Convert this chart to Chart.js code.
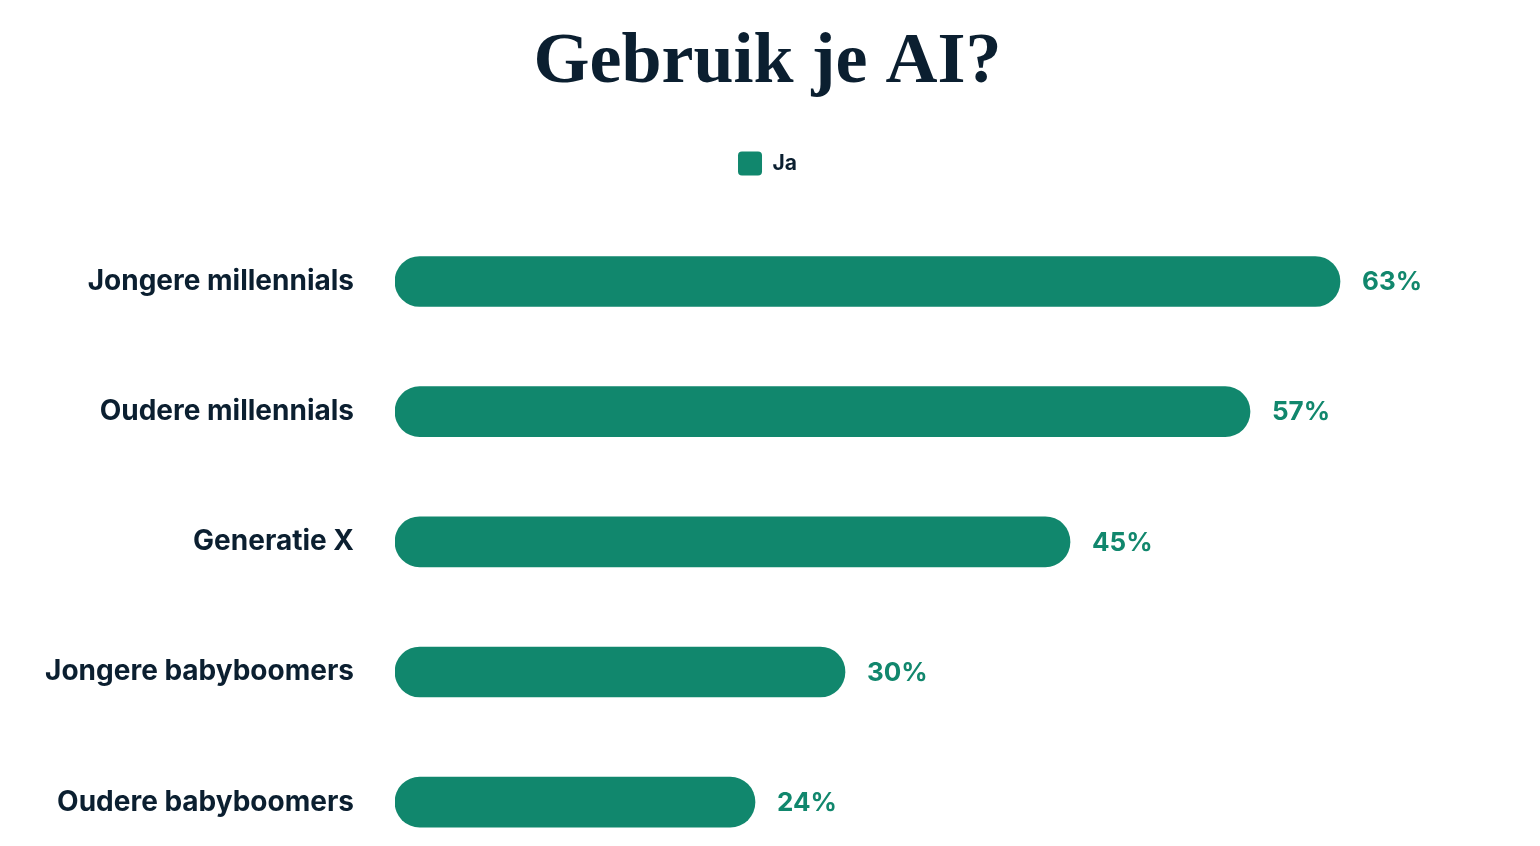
<!DOCTYPE html>
<html>
<head>
<meta charset="utf-8">
<script src="https://cdn.jsdelivr.net/npm/chart.js@4"></script>
<style>
  body { margin: 0; background: #fff; overflow: hidden; }
  #wrap { width: 1540px; height: 925px; }
</style>
</head>
<body>
<div id="wrap"><canvas id="aiChart"></canvas></div>
<script>
const categories = ['Jongere millennials', 'Oudere millennials', 'Generatie X', 'Jongere babyboomers', 'Oudere babyboomers'];
const jaValues = [63, 57, 45, 30, 24];
const seriesLabel = 'Ja';

const green = '#11876d';
const ink = '#0b1f30';

// draws "63%" etc. right of each bar
const valueLabels = {
  id: 'valueLabels',
  afterDatasetsDraw(chart) {
    const ctx = chart.ctx;
    ctx.save();
    ctx.font = 'bold 26px Inter';
    ctx.fillStyle = green;
    ctx.textAlign = 'left';
    ctx.textBaseline = 'middle';
    chart.getDatasetMeta(0).data.forEach((bar, i) => {
      ctx.fillText(jaValues[i] + '%', bar.x + 22, bar.y + 1);
    });
    ctx.restore();
  }
};

const ctx = document.getElementById('aiChart').getContext('2d');
new Chart(ctx, {
  type: 'bar',
  data: {
    labels: categories,
    datasets: [
      {
        label: seriesLabel,
        data: jaValues,
        backgroundColor: green,
        borderRadius: 25,
        borderSkipped: false,
        barThickness: 50,
      },
    ],
  },
  options: {
    indexAxis: 'y',
    responsive: true,
    maintainAspectRatio: false,
    animation: false,
    layout: {
      padding: { top: 0, right: 5, bottom: 34, left: 0 },
    },
    plugins: {
      title: {
        display: true,
        text: 'Gebruik je AI?',
        color: ink,
        font: { family: 'Liberation Serif', size: 72, weight: 'bold' },
        padding: { top: 20, bottom: 29 },
      },
      legend: {
        position: 'top',
        labels: {
          color: ink,
          font: { family: 'Inter', size: 21, weight: 'bold' },
          boxWidth: 24,
          boxHeight: 24,
          useBorderRadius: true,
          borderRadius: 4,
          padding: 16,
        },
      },
      tooltip: { enabled: false },
    },
    scales: {
      x: {
        position: 'top',
        min: 0,
        max: 76,
        grid: { display: false },
        border: { display: false },
        ticks: { display: false },
        // empty band between legend and first bar
        afterFit(scale) {
          scale.height = 31;
        },
      },
      y: {
        grid: { display: false, drawTicks: false },
        border: { display: false },
        ticks: {
          color: ink,
          font: { family: 'Inter', size: 28, weight: 'bold' },
          padding: 41,
        },
        afterFit(scale) {
          scale.width = 395;
        },
      },
    },
  },
  plugins: [valueLabels],
});
</script>
</body>
</html>
